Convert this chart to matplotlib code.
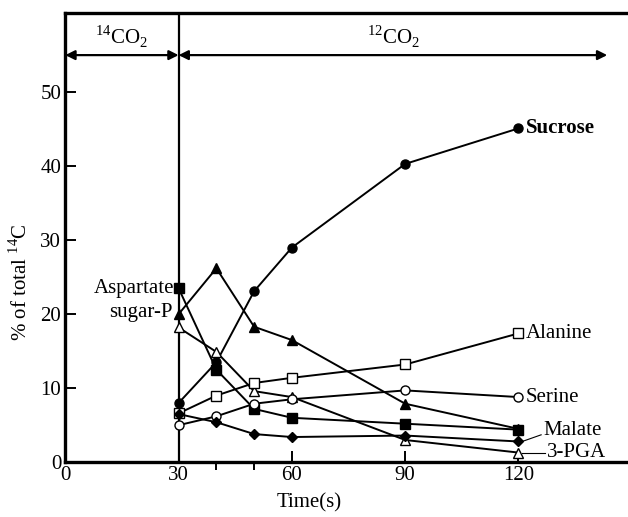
import matplotlib
matplotlib.use("Agg")
import matplotlib.pyplot as plt

plt.rcParams["font.family"] = ["Liberation Serif", "DejaVu Serif"]
plt.rcParams["mathtext.fontset"] = "custom"
plt.rcParams["mathtext.rm"] = "Liberation Serif"

# ── Data (time in s, % of total 14C) ───────────────────────────────────────
time = [30, 40, 50, 60, 90, 120]
sucrose = [8.0, 13.5, 23.1, 29.0, 40.3, 45.1]
aspartate = [23.5, 12.5, 7.2, 6.0, 5.2, 4.4]
sugar_p = [20.0, 26.2, 18.3, 16.5, 7.9, 4.5]
pga = [18.2, 14.9, 9.6, 8.8, 3.0, 1.3]
alanine = [6.6, 9.0, 10.7, 11.4, 13.2, 17.4]
serine = [5.0, 6.2, 7.9, 8.5, 9.7, 8.8]
malate = [6.5, 5.4, 3.8, 3.4, 3.6, 2.8]

x_ticks = [0, 30, 60, 90, 120]
x_minor = [40, 50]
y_ticks = [0, 10, 20, 30, 40, 50]

FS = 15

fig = plt.figure(figsize=(6.28, 5.17), dpi=100)
ax = fig.add_axes([0.104, 0.106, 0.896, 0.869])

line_kw = dict(color="black", linewidth=1.4, clip_on=False, zorder=3)
ax.plot(time, sucrose, marker="o", markerfacecolor="black", markersize=6.5, **line_kw)
ax.plot(time, aspartate, marker="s", markerfacecolor="black", markersize=6.5, **line_kw)
ax.plot(time, sugar_p, marker="^", markerfacecolor="black", markersize=6.5, **line_kw)
ax.plot(time, pga, marker="^", markerfacecolor="white", markersize=7, **line_kw)
ax.plot(time, alanine, marker="s", markerfacecolor="white", markersize=7, **line_kw)
ax.plot(time, serine, marker="o", markerfacecolor="white", markersize=6.5, **line_kw)
ax.plot(time, malate, marker="D", markerfacecolor="black", markersize=5.5, **line_kw)

ax.set_xlim(0, 149)
ax.set_ylim(0, 60.7)

# Spines: thick left/bottom/top, no right
for side in ["left", "bottom", "top"]:
    ax.spines[side].set_linewidth(2.4)
ax.spines["right"].set_visible(False)

ax.axvline(30, color="black", linewidth=1.6)

ax.set_xticks(x_ticks)
ax.set_xticks(x_minor, minor=True)
ax.set_yticks(y_ticks)
ax.tick_params(axis="both", direction="in", labelsize=FS, width=1.4)
ax.tick_params(axis="x", length=8, pad=3)
ax.tick_params(axis="x", which="minor", length=6, width=1.4)
ax.tick_params(axis="y", length=8, pad=3)
ax.tick_params(top=False, right=False)

ax.set_xlabel("Time(s)", fontsize=FS, labelpad=-1)
ax.xaxis.set_label_coords(0.433, -0.07)
ax.set_ylabel("% of total $^{14}$C", fontsize=FS)
ax.yaxis.set_label_coords(-0.06, 0.40)

# Labelling period arrows
arrow_y = 55.0
ax.annotate("", xy=(0, arrow_y), xytext=(30, arrow_y),
            arrowprops=dict(arrowstyle="<|-|>", color="black", lw=1.6,
                            mutation_scale=14, shrinkA=0, shrinkB=0))
ax.annotate("", xy=(30, arrow_y), xytext=(143.5, arrow_y),
            arrowprops=dict(arrowstyle="<|-|>", color="black", lw=1.6,
                            mutation_scale=14, shrinkA=0, shrinkB=0))
ax.text(15, 57.4, "$^{14}$CO$_2$", ha="center", va="center", fontsize=FS)
ax.text(87, 57.4, "$^{12}$CO$_2$", ha="center", va="center", fontsize=FS)

# Series labels
lab = dict(fontsize=FS, va="center")
ax.text(122, sucrose[-1], "Sucrose", ha="left", fontweight="bold", **lab)
ax.text(122, alanine[-1], "Alanine", ha="left", **lab)
ax.text(122, serine[-1], "Serine", ha="left", **lab)
ax.text(126.5, 4.3, "Malate", ha="left", **lab)
ax.text(127.5, 1.3, "3-PGA", ha="left", **lab)
ax.plot([121, 126], [malate[-1], 3.7], color="black", linewidth=0.8)
ax.plot([121, 127], [pga[-1], pga[-1]], color="black", linewidth=0.8)
ax.text(28.8, aspartate[0], "Aspartate", ha="right", **lab)
ax.text(28.5, 20.2, "sugar-P", ha="right", **lab)

fig.savefig("out.png", dpi=100)
